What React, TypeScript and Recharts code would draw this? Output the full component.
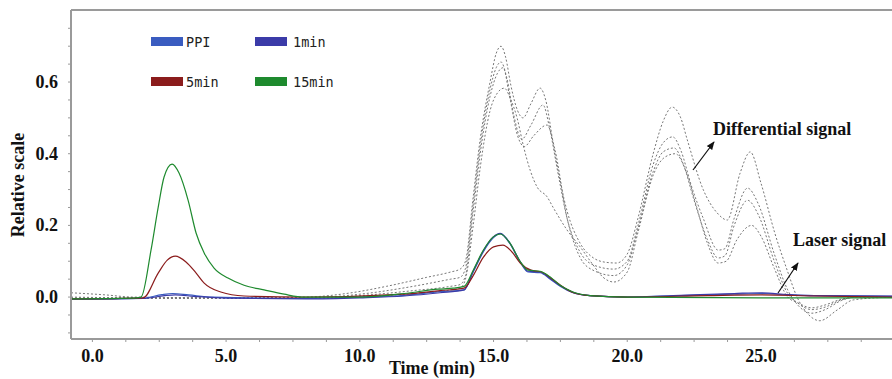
import { LineChart, Line, XAxis, YAxis, ReferenceLine } from 'recharts'

type Pt = [number, number]

// time (min), relative scale
const laserPPI: Pt[] = [
  [-0.8, -0.006], [1.9, -0.003], [2.6, 0.007], [3.0, 0.01], [3.6, 0.006], [4.5, 0.0], [8, -0.004],
  [10, 0.0], [11.66, 0.005], [13, 0.015], [13.9, 0.02], [14.24, 0.07], [14.61, 0.125], [14.99, 0.165],
  [15.25, 0.177], [15.62, 0.148], [15.99, 0.098], [16.29, 0.07], [16.74, 0.068], [17.12, 0.05],
  [17.49, 0.03], [17.97, 0.012], [18.61, 0.004], [20, 0.0], [22, 0.004], [24, 0.008], [25, 0.01],
  [26, 0.006], [27, 0.004], [29.9, 0.002],
]
const laser1min: Pt[] = [
  [-0.8, -0.006], [1.9, -0.004], [2.7, 0.004], [3.1, 0.006], [3.8, 0.002], [5, -0.003], [8, -0.005],
  [10, -0.002], [11.66, 0.003], [13, 0.012], [13.9, 0.02], [14.24, 0.072], [14.61, 0.128], [14.99, 0.168],
  [15.25, 0.178], [15.62, 0.15], [15.99, 0.1], [16.29, 0.072], [16.74, 0.07], [17.12, 0.052],
  [17.49, 0.032], [17.97, 0.013], [18.61, 0.004], [20, 0.0], [22, 0.005], [24, 0.01], [25, 0.012],
  [26, 0.007], [27, 0.004], [29.9, 0.003],
]
const laser5min: Pt[] = [
  [-0.8, -0.005], [1.9, -0.002], [2.46, 0.067], [2.8, 0.103], [3.1, 0.114], [3.5, 0.098], [3.88, 0.067],
  [4.18, 0.039], [4.8, 0.014], [5.67, 0.003], [8, 0.0], [11.66, 0.008], [13, 0.018], [13.9, 0.025],
  [14.24, 0.06], [14.61, 0.11], [15.0, 0.14], [15.35, 0.145], [15.7, 0.125], [16.0, 0.095], [16.4, 0.075],
  [16.8, 0.07], [17.2, 0.05], [17.6, 0.028], [18.0, 0.012], [18.6, 0.004], [20, 0.0], [23, 0.004],
  [25, 0.006], [27, 0.003], [29.9, 0.0],
]
const laser15min: Pt[] = [
  [-0.8, -0.005], [1.5, -0.003], [1.82, 0.0], [2.19, 0.13], [2.46, 0.25], [2.68, 0.335], [2.98, 0.371],
  [3.24, 0.346], [3.58, 0.27], [3.88, 0.178], [4.18, 0.123], [4.55, 0.081], [5.07, 0.053], [5.67, 0.033],
  [6.42, 0.02], [7.17, 0.008], [7.92, 0.0], [10, 0.0], [11.66, 0.01], [12.93, 0.022], [13.5, 0.025],
  [13.9, 0.03], [14.24, 0.075], [14.61, 0.13], [14.99, 0.168], [15.25, 0.176], [15.62, 0.15],
  [15.99, 0.1], [16.29, 0.075], [16.74, 0.072], [17.12, 0.056], [17.49, 0.033], [17.97, 0.014],
  [18.61, 0.004], [20, 0.0], [25, -0.002], [29.9, -0.002],
]

const diff1: Pt[] = [
  [-0.8, 0.012], [0.5, 0.006], [1.5, 0.0], [5, -0.002], [8, 0.0], [9.5, 0.01], [11, 0.03], [12.5, 0.055],
  [13.4, 0.07], [13.75, 0.078], [13.95, 0.1], [14.24, 0.28], [14.5, 0.44], [14.87, 0.6], [15.1, 0.68],
  [15.28, 0.7], [15.45, 0.67], [15.65, 0.59], [15.9, 0.52], [16.1, 0.5], [16.4, 0.54], [16.74, 0.583],
  [16.95, 0.55], [17.25, 0.42], [17.75, 0.24], [18.24, 0.15], [18.72, 0.11], [19.2, 0.097], [19.6, 0.095],
  [20.0, 0.12], [20.4, 0.22], [20.97, 0.4], [21.34, 0.49], [21.68, 0.53], [22.0, 0.5], [22.24, 0.44],
  [22.84, 0.3], [23.36, 0.235], [23.74, 0.215], [24.22, 0.346], [24.6, 0.405], [25.0, 0.318],
  [25.52, 0.178], [25.98, 0.075], [26.35, 0.0], [26.73, -0.045], [27.2, -0.066], [27.85, -0.036],
  [28.45, -0.008], [29.9, 0.0],
]
const diff2: Pt[] = [
  [-0.8, 0.0], [1.5, -0.002], [8, -0.002], [10, 0.008], [12, 0.03], [13.4, 0.05], [13.75, 0.055],
  [13.95, 0.08], [14.24, 0.26], [14.5, 0.42], [14.87, 0.58], [15.1, 0.64], [15.28, 0.656], [15.5, 0.61],
  [15.75, 0.51], [16.05, 0.44], [16.4, 0.48], [16.85, 0.536], [17.1, 0.47], [17.4, 0.35], [17.75, 0.22],
  [18.24, 0.125], [18.72, 0.09], [19.5, 0.078], [20.0, 0.1], [20.4, 0.2], [20.97, 0.37], [21.34, 0.43],
  [21.7, 0.447], [22.0, 0.41], [22.4, 0.31], [22.84, 0.22], [23.4, 0.131], [23.65, 0.135], [24.0, 0.22],
  [24.5, 0.304], [24.9, 0.26], [25.5, 0.12], [26.0, 0.02], [26.35, -0.02], [26.9, -0.045], [27.4, -0.035],
  [28.0, -0.01], [28.6, 0.0], [29.9, 0.0],
]
const diff3: Pt[] = [
  [-0.8, -0.002], [8, -0.003], [10, 0.004], [12, 0.018], [13.4, 0.03], [13.75, 0.035], [13.95, 0.06],
  [14.24, 0.24], [14.5, 0.4], [14.87, 0.56], [15.15, 0.625], [15.36, 0.64], [15.6, 0.56], [15.9, 0.45],
  [16.15, 0.42], [16.5, 0.45], [17.0, 0.48], [17.3, 0.41], [17.75, 0.22], [18.24, 0.11], [18.72, 0.075],
  [19.5, 0.06], [20.0, 0.09], [20.4, 0.19], [20.97, 0.35], [21.34, 0.405], [21.75, 0.416], [22.1, 0.37],
  [22.5, 0.27], [23.0, 0.16], [23.4, 0.109], [23.65, 0.115], [24.0, 0.2], [24.5, 0.27], [24.9, 0.23],
  [25.5, 0.1], [26.0, 0.01], [26.35, -0.015], [26.9, -0.035], [27.4, -0.028], [28.0, -0.008], [28.6, 0.0],
  [29.9, 0.0],
]
const diff4: Pt[] = [
  [-0.8, -0.004], [8, -0.004], [10, 0.0], [12, 0.01], [13.4, 0.02], [13.75, 0.025], [13.95, 0.05],
  [14.24, 0.2], [14.5, 0.36], [14.87, 0.52], [15.15, 0.57], [15.4, 0.583], [15.65, 0.55], [15.88, 0.5],
  [16.11, 0.424], [16.37, 0.354], [16.63, 0.307], [17.0, 0.28], [17.23, 0.25], [17.75, 0.187],
  [18.24, 0.14], [18.72, 0.09], [19.1, 0.055], [19.5, 0.042], [20.0, 0.07], [20.4, 0.18], [20.97, 0.34],
  [21.4, 0.39], [21.8, 0.4], [22.2, 0.35], [22.6, 0.25], [23.0, 0.15], [23.4, 0.095], [23.7, 0.1],
  [24.1, 0.16], [24.65, 0.2], [25.0, 0.17], [25.5, 0.08], [26.0, 0.0], [26.35, -0.015], [26.9, -0.03],
  [27.4, -0.022], [28.0, -0.006], [28.6, 0.0], [29.9, 0.0],
]

const legendNames = ['PPI', '1min', '5min', '15min']
const legendColors = ['#3a5cc0', '#3b3ba8', '#8b1c1c', '#1e8a2e']

const xTicks = [0, 1.25, 2.5, 3.75, 5, 6.25, 7.5, 8.75, 10, 11.25, 12.5, 13.75, 15, 16.25, 17.5, 18.75, 20, 21.25, 22.5, 23.75, 25, 26.25, 27.5, 28.75]
const yTicks = [-0.1, -0.05, 0, 0.05, 0.1, 0.15, 0.2, 0.25, 0.3, 0.35, 0.4, 0.45, 0.5, 0.55, 0.6, 0.65, 0.7, 0.75]
const yLabelled = [0, 0.2, 0.4, 0.6]

const toRows = (pts: Pt[]) => pts.map(([t, v]) => ({ t, v }))
const laserSeries = [laserPPI, laser1min, laser5min, laser15min]
const diffSeries = [diff1, diff2, diff3, diff4]

const serif = '"Liberation Serif", "Times New Roman", serif'
const frame = '#9a9a9a'

const XTick = (props: any) => {
  const { x, payload } = props
  const v = payload.value
  if (Math.abs(v / 5 - Math.round(v / 5)) > 1e-6) return null
  return (
    <text x={x} y={362} textAnchor="middle" fontFamily={serif} fontWeight="bold" fontSize={18} fill="#111">
      {v.toFixed(1)}
    </text>
  )
}

const YTick = (props: any) => {
  const { y, payload } = props
  const v = payload.value
  if (!yLabelled.some((l) => Math.abs(l - v) < 1e-6)) return null
  return (
    <text x={58} y={y + 6} textAnchor="end" fontFamily={serif} fontWeight="bold" fontSize={18} fill="#111">
      {v.toFixed(1)}
    </text>
  )
}

export default function App() {
  return (
    <div style={{ position: 'absolute', left: 0, top: 0, width: 892, height: 379, background: '#fff' }}>
      <LineChart width={892} height={379} margin={{ top: 10, right: 0, bottom: 0, left: 0 }}>
        <XAxis
          dataKey="t"
          type="number"
          domain={[-0.8, 29.9]}
          allowDataOverflow
          ticks={xTicks}
          interval={0}
          height={40}
          tick={<XTick />}
          tickSize={3}
          tickLine={{ stroke: frame }}
          axisLine={{ stroke: frame, strokeWidth: 2 }}
        />
        <YAxis
          type="number"
          domain={[-0.117, 0.801]}
          allowDataOverflow
          ticks={yTicks}
          interval={0}
          width={71}
          tick={<YTick />}
          tickSize={3}
          tickLine={{ stroke: frame }}
          axisLine={{ stroke: frame, strokeWidth: 2 }}
        />
        <ReferenceLine y={0.801} stroke={frame} strokeWidth={2} />
        {diffSeries.map((s, i) => (
          <Line
            key={'d' + i}
            data={toRows(s)}
            dataKey="v"
            type="monotone"
            stroke="#777"
            strokeWidth={1}
            strokeDasharray="2 2"
            dot={false}
            isAnimationActive={false}
          />
        ))}
        {laserSeries.map((s, i) => (
          <Line
            key={'l' + i}
            data={toRows(s)}
            dataKey="v"
            type="monotone"
            stroke={legendColors[i]}
            strokeWidth={1.2}
            dot={false}
            isAnimationActive={false}
          />
        ))}
      </LineChart>
      <svg
        width={892}
        height={379}
        style={{ position: 'absolute', left: 0, top: 0, pointerEvents: 'none' }}
      >
        <defs>
          <marker id="arr" viewBox="0 0 10 10" refX="9" refY="5" markerWidth="7" markerHeight="7" orient="auto">
            <path d="M0,1 L10,5 L0,9 z" fill="#111" />
          </marker>
        </defs>
        {legendNames.map((n, i) => {
          const lx = i % 2 === 0 ? 151 : 255
          const ly = i < 2 ? 37 : 77
          return (
            <g key={n}>
              <rect x={lx} y={ly} width={32} height={9} fill={legendColors[i]} />
              <text
                x={i % 2 === 0 ? lx + 35 : lx + 38}
                y={ly + 10}
                fontFamily='"DejaVu Sans Mono", monospace'
                fontSize={13.5}
                fill="#222"
              >
                {n}
              </text>
            </g>
          )
        })}
        <text x={713} y={135} fontFamily={serif} fontWeight="bold" fontSize={18} fill="#111">
          Differential signal
        </text>
        <line x1={693} y1={170} x2={714} y2={142} stroke="#111" strokeWidth={1.2} markerEnd="url(#arr)" />
        <text x={793} y={246} fontFamily={serif} fontWeight="bold" fontSize={18} fill="#111">
          Laser signal
        </text>
        <line x1={778} y1={293} x2={798} y2={263} stroke="#111" strokeWidth={1.2} markerEnd="url(#arr)" />
        <text x={432} y={374} textAnchor="middle" fontFamily={serif} fontWeight="bold" fontSize={18} fill="#111">
          Time (min)
        </text>
        <text
          transform="translate(24,185) rotate(-90)"
          textAnchor="middle"
          fontFamily={serif}
          fontWeight="bold"
          fontSize={18}
          fill="#111"
        >
          Relative scale
        </text>
      </svg>
    </div>
  )
}
